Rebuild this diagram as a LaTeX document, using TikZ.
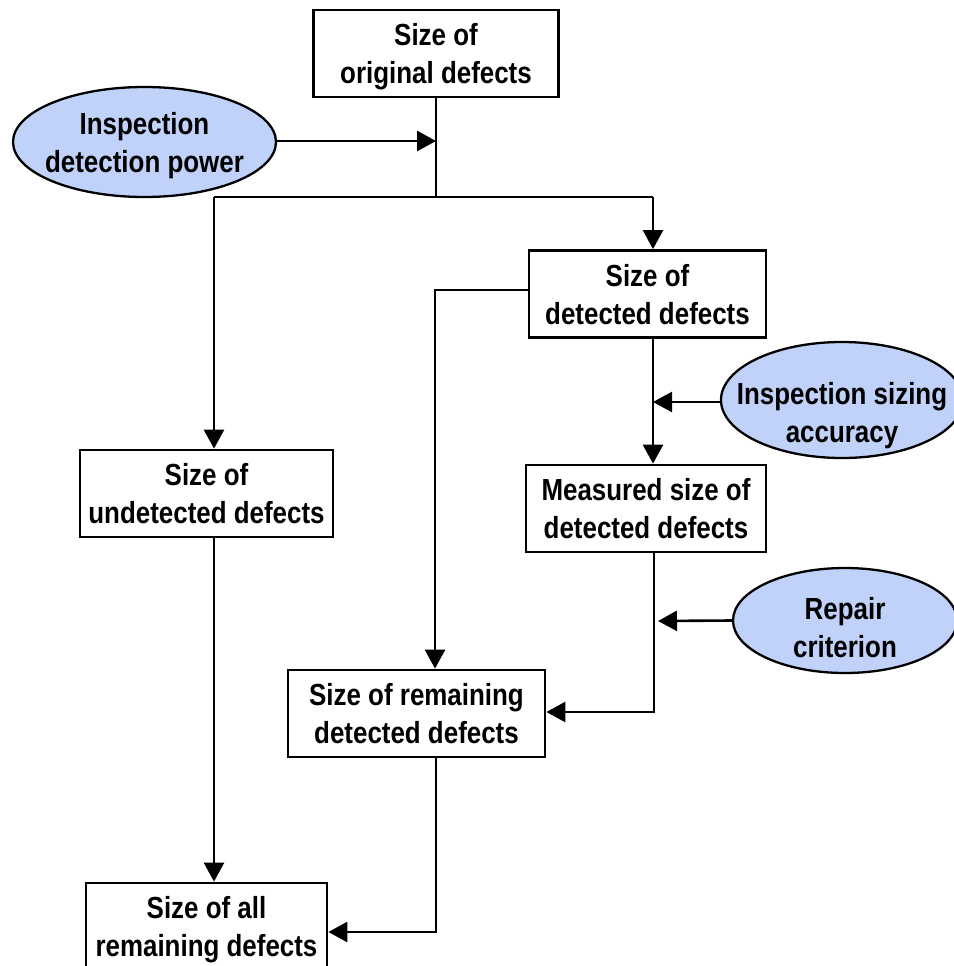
\documentclass[tikz,border=0pt]{standalone}
\usepackage{fontspec}
\setmainfont{Liberation Sans}[FakeStretch=0.85]
\usetikzlibrary{arrows.meta,shapes.geometric}
\definecolor{cause}{RGB}{192,210,250}
\begin{document}
\begin{tikzpicture}[x=1pt,y=-1pt,
  every node/.style={font=\fontsize{30.5}{38}\selectfont\bfseries, align=center, inner sep=0pt, text depth=0pt},
  box/.style={draw, line width=2.7pt, rectangle, minimum height=87pt},
  cause/.style={draw, line width=2.3pt, ellipse, fill=cause},
  link/.style={line width=2.6pt},
  arr/.style={line width=2.6pt, -{Triangle[length=19pt,width=20pt]}}]
\useasboundingbox (0,0) rectangle (953,966);

% quantities
\node[box, minimum width=245pt] (b1) at (436,53.5) {Size of\\original defects};
\node[box, minimum width=237pt] (b2) at (647.5,294) {Size of\\detected defects};
\node[box, minimum width=253pt] (b3) at (206.5,493.5) {Size of\\undetected defects};
\node[box, minimum width=240pt] (b4) at (646,508.5) {Measured size of\\detected defects};
\node[box, minimum width=257pt] (b5) at (416.5,713.5) {Size of remaining\\detected defects};
\node[box, minimum width=241pt] (b6) at (206.5,926.5) {Size of all\\remaining defects};

% influencing factors: the ellipse outline and its label are separate nodes
\node[cause, minimum width=263pt, minimum height=110pt] (e1) at (144.5,142) {};
\node (e1t) at (144.5,142) {Inspection\\detection power};
\node[cause, minimum width=242pt, minimum height=116pt] (e2) at (842,400) {};
\node (e2t) at (842,412) {Inspection sizing\\accuracy};
\node[cause, minimum width=224pt, minimum height=105pt] (e3) at (845,620.5) {};
\node (e3t) at (845,627) {Repair\\criterion};

% junction points
\coordinate (j1) at (436,141);
\coordinate (jn) at (436,197);
\coordinate (jl) at (214,197);
\coordinate (jr) at (653,197);
\coordinate (m2) at (653,402);
\coordinate (m3) at (658,621);
\coordinate (c4) at (654,712);
\coordinate (c2) at (435,290);
\coordinate (c5) at (436,932);

% detection split
\draw[arr] (e1.east |- j1) -- (j1);
\draw[link] (b1.south) -- (jn);
\draw[link] (jl) -- (jr);
\draw[arr] (jr) -- (jr |- b2.north);
\draw[arr] (jl) -- (jl |- b3.north);

% sizing and repair
\draw[arr] (b2.south -| jr) -- (b4.north -| jr);
\draw[arr] (e2.west |- m2) -- (m2);
\draw[arr] (e3.west) -- (m3);
\draw[arr] (b4.south -| c4) -- (c4) -- (b5.east |- c4);
\draw[arr] (b2.west |- c2) -- (c2) -- (c2 |- b5.north);

% remaining defects
\draw[arr] (b5.south -| c5) -- (c5) -- (b6.east |- c5);
\draw[arr] (b3.south -| jl) -- (b6.north -| jl);
\end{tikzpicture}
\end{document}
